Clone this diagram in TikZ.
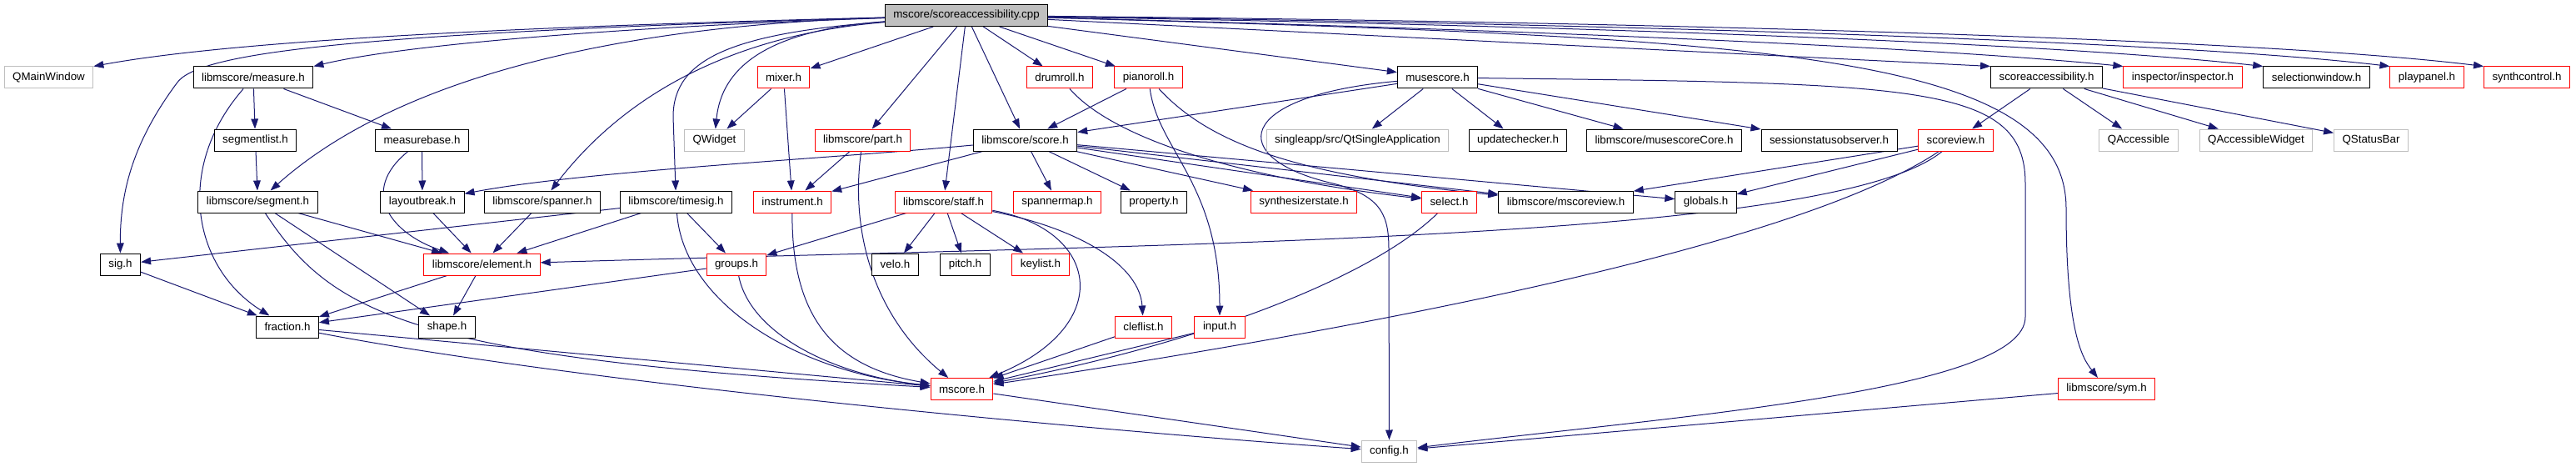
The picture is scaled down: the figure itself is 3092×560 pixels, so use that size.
\documentclass[tikz,border=0pt]{standalone}
\usepackage{fontspec}
\setmainfont{Liberation Sans}
\usepackage{tikz}
\usetikzlibrary{arrows.meta, backgrounds}
\usepackage{xcolor}
\definecolor{edgeblue}{HTML}{191970}
\definecolor{truncred}{HTML}{FF0000}
\definecolor{extgray}{HTML}{BFBFBF}
\tikzstyle{docfile} = [
rectangle,
draw=black,
line width=0.75pt,
fill=white,
minimum height=19.5pt,
inner xsep=7.5pt,
inner ysep=0pt,
font=\fontsize{10pt}{12pt}\selectfont
]
\tikzstyle{truncfile} = [docfile, draw=truncred]
\tikzstyle{extfile} = [docfile, draw=extgray]
\tikzstyle{rootfile} = [docfile, fill=extgray]
\tikzstyle{arrow}=[-{Triangle[length=9pt,width=6.5pt]}, draw=edgeblue, line width=0.75pt]

\begin{document}
\begin{tikzpicture}[x=0.75pt, y=-0.75pt]

        \useasboundingbox (0,0) rectangle (3092,560);

        \node(root)[rootfile] at (1160,18.5) {mscore/scoreaccessibility.cpp};

        \node(qmainwindow)[extfile] at (58.5,93) {QMainWindow};
        \node(measure)[docfile] at (304,93) {libmscore/measure.h};
        \node(mixer)[truncfile] at (940.5,93) {mixer.h};
        \node(drumroll)[truncfile] at (1272,93) {drumroll.h};
        \node(pianoroll)[truncfile] at (1378.5,93) {pianoroll.h};
        \node(musescore)[docfile] at (1725.5,93) {musescore.h};
        \node(scoreacc)[docfile] at (2456.5,93) {scoreaccessibility.h};
        \node(inspector)[truncfile] at (2620,93) {inspector/inspector.h};
        \node(selwindow)[docfile] at (2780.5,93) {selectionwindow.h};
        \node(playpanel)[truncfile] at (2913,93) {playpanel.h};
        \node(synthcontrol)[truncfile] at (3033,93) {synthcontrol.h};

        \node(segmentlist)[docfile] at (306.5,168) {segmentlist.h};
        \node(measurebase)[docfile] at (506.5,168) {measurebase.h};
        \node(qwidget)[extfile] at (857.5,168) {QWidget};
        \node(part)[truncfile] at (1035.5,168) {libmscore/part.h};
        \node(score)[docfile] at (1230.5,168) {libmscore/score.h};
        \node(singleapp)[extfile] at (1629.5,168) {singleapp/src/QtSingleApplication};
        \node(updatechecker)[docfile] at (1822,168) {updatechecker.h};
        \node(musescorecore)[docfile] at (1997.5,168) {libmscore/musescoreCore.h};
        \node(sessionobs)[docfile] at (2195.5,168) {sessionstatusobserver.h};
        \node(scoreview)[truncfile] at (2347.5,168) {scoreview.h};
        \node(qaccessible)[extfile] at (2567,168) {QAccessible};
        \node(qaccwidget)[extfile] at (2708,168) {QAccessibleWidget};
        \node(qstatusbar)[extfile] at (2846,168) {QStatusBar};

        \node(segment)[docfile] at (309.5,242) {libmscore/segment.h};
        \node(layoutbreak)[docfile] at (507,242) {layoutbreak.h};
        \node(spanner)[docfile] at (651,242) {libmscore/spanner.h};
        \node(timesig)[docfile] at (811.5,242) {libmscore/timesig.h};
        \node(instrument)[truncfile] at (951,242) {instrument.h};
        \node(staff)[truncfile] at (1132.5,242) {libmscore/staff.h};
        \node(spannermap)[truncfile] at (1269,242) {spannermap.h};
        \node(property)[docfile] at (1385,242) {property.h};
        \node(synthstate)[truncfile] at (1565,242) {synthesizerstate.h};
        \node(select)[truncfile] at (1739.5,242) {select.h};
        \node(mscoreview)[docfile] at (1879.5,242) {libmscore/mscoreview.h};
        \node(globals)[docfile] at (2047.5,242) {globals.h};

        \node(sig)[docfile] at (144.5,317) {sig.h};
        \node(element)[truncfile] at (578.5,317) {libmscore/element.h};
        \node(groups)[truncfile] at (884,317) {groups.h};
        \node(velo)[docfile] at (1074.5,317) {velo.h};
        \node(pitch)[docfile] at (1158.5,317) {pitch.h};
        \node(keylist)[truncfile] at (1249,317) {keylist.h};

        \node(fraction)[docfile] at (345,392) {fraction.h};
        \node(shape)[docfile] at (536.5,392) {shape.h};
        \node(cleflist)[truncfile] at (1372.5,392) {cleflist.h};
        \node(input)[truncfile] at (1464,392) {input.h};

        \node(mscore)[truncfile] at (1154.5,466.5) {mscore.h};
        \node(sym)[truncfile] at (2528.5,466.5) {libmscore/sym.h};

        \node(config)[extfile] at (1667.5,541) {config.h};

        \begin{scope}[on background layer]
        \draw[arrow] (root) .. controls (700,30) and (300,45) .. (qmainwindow.north east);
        \draw[arrow] (root) .. controls (800,30) and (500,50) .. (measure.north east);
        \draw[arrow] (root) .. controls (400,40) and (235,65) .. (212,100) .. controls (160,170) and (144,230) .. (sig);
        \draw[arrow] (root) .. controls (750,30) and (480,90) .. (segment);
        \draw[arrow] (root) .. controls (900,40) and (760,100) .. (spanner);
        \draw[arrow] (root) .. controls (880,40) and (808,70) .. (808,140) -- (timesig);
        \draw[arrow] (root) .. controls (940,35) and (867,70) .. (qwidget);
        \draw[arrow] (root) -- (mixer);
        \draw[arrow] (root) -- (part);
        \draw[arrow] (root) -- (staff);
        \draw[arrow] (root) -- (score);
        \draw[arrow] (root) -- (drumroll);
        \draw[arrow] (root) -- (pianoroll);
        \draw[arrow] (root) -- (musescore);
        \draw[arrow] (root) -- (scoreacc.north west);
        \draw[arrow] (root) .. controls (1800,35) and (2300,55) .. (inspector.north west);
        \draw[arrow] (root) .. controls (1850,30) and (2450,50) .. (selwindow.north west);
        \draw[arrow] (root) .. controls (1900,28) and (2600,48) .. (playpanel.north west);
        \draw[arrow] (root) .. controls (1950,26) and (2700,45) .. (synthcontrol.north west);
        \draw[arrow] (root) .. controls (2100,45) and (2480,60) .. (2480,250) .. controls (2480,400) and (2500,430) .. (sym);

        \draw[arrow] (musescore) -- (score);
        \draw[arrow] (musescore) -- (singleapp);
        \draw[arrow] (musescore) -- (updatechecker);
        \draw[arrow] (musescore) -- (musescorecore);
        \draw[arrow] (musescore) -- (sessionobs);
        \draw[arrow] (musescore) .. controls (1480,115) and (1470,190) .. (1600,220) .. controls (1660,235) and (1667,260) .. (1667,300) -- (config);
        \draw[arrow] (musescore) .. controls (2300,100) and (2431,100) .. (2431,220) -- (2431,380) .. controls (2431,470) and (2000,500) .. (config);

        \draw[arrow] (scoreacc) -- (scoreview);
        \draw[arrow] (scoreacc) -- (qaccessible);
        \draw[arrow] (scoreacc) -- (qaccwidget);
        \draw[arrow] (scoreacc) -- (qstatusbar);

        \draw[arrow] (scoreview) -- (mscoreview);
        \draw[arrow] (scoreview) -- (globals);
        \draw[arrow] (scoreview) .. controls (2200,290) and (1400,292) .. (element);
        \draw[arrow] (scoreview) .. controls (2150,300) and (1600,400) .. (mscore);

        \draw[arrow] (score) .. controls (1000,190) and (700,205) .. (layoutbreak);
        \draw[arrow] (score) -- (instrument);
        \draw[arrow] (score) -- (spannermap);
        \draw[arrow] (score) -- (property);
        \draw[arrow] (score) -- (synthstate);
        \draw[arrow] (score) -- (select);
        \draw[arrow] (score) -- (mscoreview);
        \draw[arrow] (score) -- (globals);

        \draw[arrow] (pianoroll) -- (score);
        \draw[arrow] (pianoroll) .. controls (1450,170) and (1550,210) .. (mscoreview);
        \draw[arrow] (pianoroll) .. controls (1390,180) and (1464,220) .. (input);
        \draw[arrow] (drumroll) .. controls (1340,170) and (1500,215) .. (select);

        \draw[arrow] (mixer) -- (qwidget);
        \draw[arrow] (mixer) -- (instrument);
        \draw[arrow] (part) -- (instrument);
        \draw[arrow] (part) .. controls (1020,280) and (1050,380) .. (mscore);

        \draw[arrow] (measure) -- (segmentlist);
        \draw[arrow] (measure) -- (measurebase);
        \draw[arrow] (measure) .. controls (210,200) and (230,320) .. (fraction);
        \draw[arrow] (segmentlist) -- (segment);
        \draw[arrow] (measurebase) -- (layoutbreak);
        \draw[arrow] (measurebase) .. controls (430,230) and (470,280) .. (element);

        \draw[arrow] (segment) -- (element);
        \draw[arrow] (segment) -- (shape);
        \draw[arrow] (segment) .. controls (400,380) and (500,430) .. (mscore);
        \draw[arrow] (layoutbreak) -- (element);
        \draw[arrow] (spanner) -- (element);
        \draw[arrow] (timesig) -- (sig);
        \draw[arrow] (timesig) -- (element);
        \draw[arrow] (timesig) -- (groups);
        \draw[arrow] (timesig) .. controls (820,360) and (950,445) .. (mscore);
        \draw[arrow] (instrument) .. controls (950,380) and (1000,440) .. (mscore);

        \draw[arrow] (staff) -- (groups);
        \draw[arrow] (staff) -- (velo);
        \draw[arrow] (staff) -- (pitch);
        \draw[arrow] (staff) -- (keylist);
        \draw[arrow] (staff) .. controls (1300,275) and (1368,320) .. (cleflist);
        \draw[arrow] (staff) .. controls (1320,275) and (1340,390) .. (mscore);

        \draw[arrow] (groups) -- (fraction);
        \draw[arrow] (groups) .. controls (900,400) and (1000,450) .. (mscore);
        \draw[arrow] (element) -- (fraction);
        \draw[arrow] (element) -- (shape);
        \draw[arrow] (sig) -- (fraction);
        \draw[arrow] (fraction) -- (mscore);
        \draw[arrow] (fraction) .. controls (700,460) and (1300,515) .. (config);
        \draw[arrow] (cleflist) -- (mscore);
        \draw[arrow] (input) -- (mscore);
        \draw[arrow] (select) .. controls (1650,330) and (1450,410) .. (mscore);
        \draw[arrow] (mscore) -- (config);
        \draw[arrow] (sym) -- (config);
        \end{scope}

\end{tikzpicture}
\end{document}
